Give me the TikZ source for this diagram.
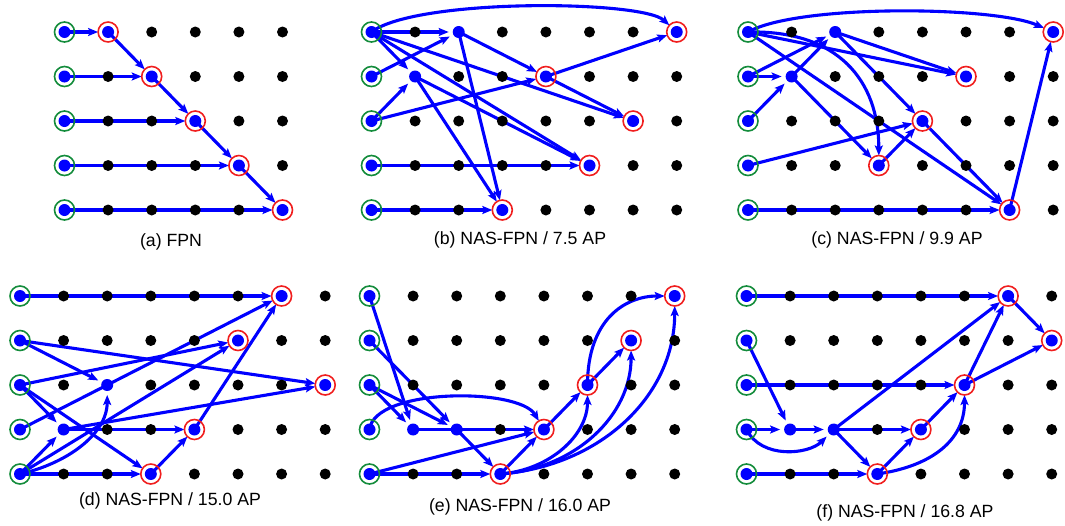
\documentclass[tikz,border=0pt]{standalone}
\usepackage{fontspec}
\setmainfont{Liberation Sans}
\usetikzlibrary{arrows.meta}
\definecolor{nblue}{RGB}{0,0,255}
\definecolor{ringgreen}{RGB}{20,140,60}
\definecolor{ringred}{RGB}{240,30,30}
\tikzset{
 cell/.style={circle, minimum size=20pt, inner sep=0pt, outer sep=0pt},
 arr/.style={draw=nblue, line width=3.1pt, -{Stealth[length=10pt,width=8pt,inset=2pt]}},
 plain/.style={draw=nblue, line width=3.1pt},
 gring/.style={draw=ringgreen, line width=1.6pt},
 rring/.style={draw=ringred, line width=1.6pt},
 caption/.style={font=\fontsize{17.7}{20}\selectfont, inner sep=0pt},
}
\newcommand\mkgrid[4]{\foreach \c in {0,...,#4}{\foreach \r in {0,...,4}{\node[cell] (#1-\c-\r) at ({#2+\c*43.6},{#3+\r*44.5}) {};}}}
\newcommand\paneldots[4]{%
 \foreach \c in {0,...,#2}{\foreach \r in {0,...,4}{\fill[black] (#1-\c-\r) circle (5.5pt);}}
 \foreach \r in {0,...,4}{\fill[nblue] (#1-0-\r) circle (6pt); \draw[gring] (#1-0-\r) circle (10pt);}
 \foreach \p in {#3}{\fill[nblue] (#1-\p) circle (6pt);}
 \foreach \p in {#4}{\draw[rring] (#1-\p) circle (10pt);}
}
\begin{document}
\begin{tikzpicture}[x=1pt,y=-1pt]
\useasboundingbox (0,0) rectangle (1065,525);
\mkgrid{a}{64.5}{32}{5}
\mkgrid{b}{371.5}{32}{7}
\mkgrid{c}{748}{32}{7}
\mkgrid{d}{20}{296}{7}
\mkgrid{e}{369.5}{296}{7}
\mkgrid{f}{746.5}{296}{7}
% (a)
\draw[arr] (a-0-0.center) -- (a-1-0);
\draw[arr] (a-0-1.center) -- (a-2-1);
\draw[arr] (a-0-2.center) -- (a-3-2);
\draw[arr] (a-0-3.center) -- (a-4-3);
\draw[arr] (a-0-4.center) -- (a-5-4);
\draw[arr] (a-1-0.center) -- (a-2-1);
\draw[arr] (a-2-1.center) -- (a-3-2);
\draw[arr] (a-3-2.center) -- (a-4-3);
\draw[arr] (a-4-3.center) -- (a-5-4);
% (b)
\draw[arr] (b-0-0.center) .. controls +(45,-34) and +(-35,-32) .. (b-7-0);
\draw[arr] (b-0-0.center) -- (b-2-0);
\draw[arr] (b-0-1.center) -- (b-2-0);
\draw[arr] (b-0-0.center) -- (b-1-1);
\draw[arr] (b-0-2.center) -- (b-1-1);
\draw[arr] (b-0-0.center) -- (b-6-2);
\draw[arr] (b-0-0.center) -- (b-5-3);
\draw[arr] (b-1-1.center) -- (b-5-3);
\draw[arr] (b-1-1.center) -- (b-3-4);
\draw[arr] (b-2-0.center) -- (b-3-4);
\draw[arr] (b-2-0.center) -- (b-4-1);
\draw[arr] (b-0-2.center) -- (b-4-1);
\draw[arr] (b-4-1.center) -- (b-7-0);
\draw[arr] (b-4-1.center) -- (b-6-2);
\draw[arr] (b-0-3.center) -- (b-5-3);
\draw[arr] (b-0-4.center) -- (b-3-4);
% (c)
\draw[arr] (c-0-0.center) .. controls +(50,-28) and +(-60,-26) .. (c-7-0);
\draw[arr] (c-0-0.center) -- (c-5-1);
\draw[arr] (c-2-0.center) -- (c-5-1);
\draw[arr] (c-0-0.center) .. controls +(90,-2) and +(0,-85) .. (c-3-3);
\draw[arr] (c-0-0.center) -- (c-6-4);
\draw[arr] (c-0-1.center) -- (c-1-1);
\draw[arr] (c-0-1.center) -- (c-2-0);
\draw[arr] (c-0-2.center) -- (c-1-1);
\draw[arr] (c-1-1.center) -- (c-2-0);
\draw[arr] (c-1-1.center) -- (c-3-3);
\draw[arr] (c-2-0.center) -- (c-4-2);
\draw[arr] (c-0-3.center) -- (c-4-2);
\draw[arr] (c-3-3.center) -- (c-4-2);
\draw[arr] (c-4-2.center) -- (c-6-4);
\draw[arr] (c-0-4.center) -- (c-6-4);
\draw[arr] (c-6-4.center) -- (c-7-0);
% (d)
\draw[arr] (d-0-0.center) -- (d-6-0);
\draw[arr] (d-0-1.center) -- (d-2-2);
\draw[arr] (d-0-1.center) -- (d-7-2);
\draw[arr] (d-0-2.center) -- (d-5-1);
\draw[arr] (d-0-2.center) -- (d-1-3);
\draw[arr] (d-0-2.center) -- (d-3-4);
\draw[plain] (d-0-3.center) -- (d-2-2.center);
\draw[arr] (d-2-2.center) -- (d-6-0);
\draw[arr] (d-0-4.center) -- (d-1-3);
\draw[arr] (d-0-4.center) -- (d-3-4);
\draw[arr] (d-0-4.center) -- (d-5-1);
\draw[arr] (d-0-4.center) .. controls +(45,-10) and +(0,50) .. (d-2-2);
\draw[arr] (d-1-3.center) -- (d-4-3);
\draw[arr] (d-1-3.center) -- (d-7-2);
\draw[arr] (d-3-4.center) -- (d-4-3);
\draw[arr] (d-4-3.center) -- (d-6-0);
% (e)
\draw[arr] (e-0-0.center) -- (e-1-3);
\draw[arr] (e-0-1.center) -- (e-2-3);
\draw[arr] (e-0-2.center) -- (e-1-3);
\draw[arr] (e-0-2.center) -- (e-2-3);
\draw[arr] (e-0-3.center) .. controls +(5,-42) and +(-25,-42) .. (e-4-3);
\draw[plain] (e-1-3.center) -- (e-2-3.center);
\draw[arr] (e-2-3.center) -- (e-4-3);
\draw[arr] (e-0-4.center) -- (e-4-3);
\draw[arr] (e-0-4.center) -- (e-3-4);
\draw[arr] (e-2-3.center) -- (e-3-4);
\draw[arr] (e-3-4.center) -- (e-4-3);
\draw[arr] (e-4-3.center) -- (e-5-2);
\draw[arr] (e-5-2.center) -- (e-6-1);
\draw[arr] (e-5-2.center) .. controls +(0,-65) and +(-50,0) .. (e-7-0);
\draw[arr] (e-3-4.center) .. controls +(50,-4) and +(0,50) .. (e-5-2);
\draw[arr] (e-3-4.center) .. controls +(75,-5) and +(0,75) .. (e-6-1);
\draw[arr] (e-3-4.center) .. controls +(100,-8) and +(0,100) .. (e-7-0);
% (f)
\draw[arr] (f-0-0.center) -- (f-6-0);
\draw[arr] (f-0-1.center) -- (f-1-3);
\draw[arr] (f-0-2.center) -- (f-5-2);
\draw[arr] (f-0-3.center) -- (f-1-3);
\draw[arr] (f-0-3.center) .. controls +(15,30) and +(-25,25) .. (f-2-3);
\draw[arr] (f-1-3.center) -- (f-2-3);
\draw[arr] (f-2-3.center) -- (f-6-0);
\draw[arr] (f-2-3.center) -- (f-4-3);
\draw[arr] (f-2-3.center) -- (f-3-4);
\draw[arr] (f-0-4.center) -- (f-3-4);
\draw[arr] (f-3-4.center) -- (f-4-3);
\draw[arr] (f-4-3.center) -- (f-5-2);
\draw[arr] (f-3-4.center) .. controls +(55,-8) and +(0,55) .. (f-5-2);
\draw[arr] (f-5-2.center) -- (f-6-0);
\draw[arr] (f-5-2.center) -- (f-7-1);
\draw[arr] (f-6-0.center) -- (f-7-1);
% dots and rings
\paneldots{a}{5}{1-0,2-1,3-2,4-3,5-4}{1-0,2-1,3-2,4-3,5-4}
\paneldots{b}{7}{2-0,1-1,7-0,4-1,6-2,5-3,3-4}{7-0,4-1,6-2,5-3,3-4}
\paneldots{c}{7}{2-0,1-1,7-0,5-1,4-2,3-3,6-4}{7-0,5-1,4-2,3-3,6-4}
\paneldots{d}{7}{2-2,1-3,6-0,5-1,7-2,4-3,3-4}{6-0,5-1,7-2,4-3,3-4}
\paneldots{e}{7}{1-3,2-3,7-0,6-1,5-2,4-3,3-4}{7-0,6-1,5-2,4-3,3-4}
\paneldots{f}{7}{1-3,2-3,6-0,7-1,5-2,4-3,3-4}{6-0,7-1,5-2,4-3,3-4}
% captions
\node[caption] (capa) at (171,242) {(a) FPN};
\node[caption] (capb) at (520,240) {(b) NAS-FPN / 7.5 AP};
\node[caption] (capc) at (897,240) {(c) NAS-FPN / 9.9 AP};
\node[caption] (capd) at (170,501) {(d) NAS-FPN / 15.0 AP};
\node[caption] (cape) at (520,507) {(e) NAS-FPN / 16.0 AP};
\node[caption] (capf) at (905,513) {(f) NAS-FPN / 16.8 AP};
\end{tikzpicture}
\end{document}
